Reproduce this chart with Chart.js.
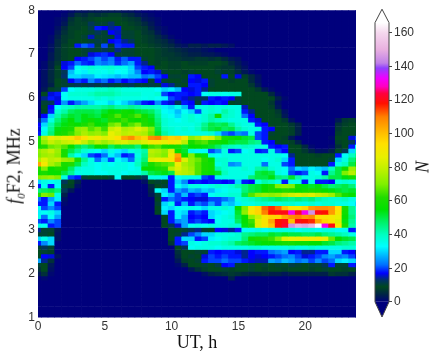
<!DOCTYPE html>
<html>
<head>
<meta charset="utf-8">
<title>foF2 occurrence</title>
<script src="https://cdn.jsdelivr.net/npm/chart.js@4/dist/chart.umd.min.js"></script>
<style>
    body { margin: 0; background: #fff; }
    canvas { position: absolute; top: 0; }
    #heatChart { left: 0; }
    #barChart { left: 366px; }
    .axisTitle {
        position: absolute;
        font-family: "Liberation Serif", serif;
        font-size: 18px;
        color: #111;
        white-space: nowrap;
        transform: translate(-50%, -50%) rotate(-90deg);
    }
    .axisTitle sub { font-size: 11px; font-style: italic; }
</style>
</head>
<body>
<canvas id="heatChart" width="370" height="356"></canvas>
<canvas id="barChart" width="67" height="356"></canvas>
<div class="axisTitle" style="left:15px;top:166px"><i>f</i><sub>0</sub>F2, MHz</div>
<div class="axisTitle" style="left:423px;top:167px"><i>N</i></div>
<script>
// UT columns (half hour bins) and tick labels
const utHours = [0,0.5,1,1.5,2,2.5,3,3.5,4,4.5,5,5.5,6,6.5,7,7.5,8,8.5,9,9.5,10,10.5,11,11.5,12,12.5,13,13.5,14,14.5,15,15.5,16,16.5,17,17.5,18,18.5,19,19.5,20,20.5,21,21.5,22,22.5,23,23.5,24];
const utTicks = [0,5,10,15,20];
const barTicks = [0,20,40,60,80,100,120,140,160];

// Counts per frequency bin, named by f0F2*10
const r80 = [0,0,0,0,0,1,2,2,3,3,3,3,3,2,2,1];
const r79 = [0,0,0,0,1,3,6,5,7,6,7,8,8,6,5,3,2,1];
const r78 = [0,0,0,1,2,6,8,7,8,9,9,9,9,8,7,6,3,2,1];
const r77 = [0,0,0,1,3,7,8,8,12,10,10,13,9,9,8,7,5,3,1];
const r76 = [0,0,0,2,5,8,8,9,11,18,17,14,16,9,9,8,7,4,2,1];
const r75 = [0,0,0,3,6,8,9,9,10,12,10,17,15,10,10,9,7,6,3,1];
const r74 = [0,0,1,4,7,8,9,10,15,10,10,10,16,10,10,9,8,7,5,3,1];
const r73 = [0,0,1,5,7,9,9,9,10,11,10,17,18,14,12,9,8,7,6,5,3,1];
const r72 = [0,0,2,5,8,9,18,21,19,10,20,10,19,18,18,9,9,8,7,6,5,3,2,4,4,3,4,4,3,2];
const r71 = [0,0,2,6,8,9,9,10,11,10,12,10,14,10,10,9,9,9,8,7,6,5,4,3,3,2,1];
const r70 = [0,0,3,6,8,9,9,10,16,18,19,17,10,10,10,9,9,9,8,7,7,6,5,4,4,3,3,2,1];
const r69 = [0,0,3,6,8,9,17,18,20,24,20,23,18,21,18,18,10,9,8,8,7,7,6,6,7,7,6,7,5,3,2];
const r68 = [0,1,4,7,16,18,22,19,18,24,22,24,19,22,26,18,14,9,8,9,8,8,9,8,8,8,9,9,8,5,3,1];
const r67 = [0,1,4,9,17,20,34,36,38,36,37,38,36,35,30,20,18,17,9,9,8,8,9,9,9,9,9,8,7,7,4,2];
const r66 = [0,2,5,8,12,28,34,32,36,35,34,36,33,34,30,24,17,18,16,10,9,9,8,10,9,9,9,10,8,8,6,3,1];
const r65 = [0,2,5,8,13,30,30,28,28,32,31,30,28,30,28,28,22,24,20,17,10,10,9,18,17,9,9,9,18,9,16,8,5,2];
const r64 = [0,2,5,9,10,17,20,18,24,20,22,18,20,17,19,18,17,10,17,10,9,9,10,17,16,18,10,9,9,8,9,9,5,2];
const r63 = [0,2,4,9,10,11,12,11,12,11,12,11,10,11,12,10,10,11,10,16,14,10,9,18,18,17,10,9,9,9,9,9,7,3];
const r62 = [0,3,8,10,20,33,36,36,36,38,38,40,38,36,36,36,36,36,33,30,32,28,17,16,18,14,9,9,9,9,9,9,9,7,3,1];
const r61 = [0,9,16,18,34,38,38,38,40,42,42,42,40,38,38,38,36,36,38,20,17,18,18,17,18,34,36,36,35,36,36,9,9,9,9,5,1];
const r60 = [0,14,18,16,34,36,36,36,36,38,36,38,36,36,36,36,35,36,34,32,20,18,16,14,12,12,18,17,18,17,10,9,9,9,9,9,4,1];
const r59 = [0,10,12,17,25,18,22,26,30,34,34,30,33,30,26,22,18,17,24,18,16,12,18,17,10,18,17,18,17,9,10,9,9,9,9,7,2];
const r58 = [0,9,17,33,38,40,42,42,42,42,44,46,42,42,44,42,40,40,38,32,30,35,28,18,36,36,38,36,37,36,36,15,9,9,9,8,3];
const r57 = [0,8,18,38,42,48,50,50,50,48,52,56,54,58,56,52,50,48,42,34,32,28,34,30,20,36,38,36,42,38,36,18,14,9,9,9,7,2];
const r56 = [0,17,30,42,48,52,50,54,52,50,56,60,66,58,62,66,58,52,44,36,34,30,36,38,35,38,42,58,40,38,36,22,17,9,9,9,8,3];
const r55 = [14,22,36,46,52,56,50,54,58,54,52,62,60,64,58,56,60,54,46,38,36,34,36,38,36,38,42,40,38,36,36,36,18,16,9,9,9,7,2,0,0,0,0,0,0,3,7,8,6];
const r54 = [17,30,42,50,54,58,56,60,64,56,58,68,72,62,66,70,62,58,48,38,36,36,36,36,38,44,50,48,50,44,38,36,36,18,17,9,9,9,7,4,0,0,0,0,0,6,8,9,9];
const r53 = [16,34,44,54,58,60,72,74,66,70,64,80,84,76,78,84,80,70,50,40,38,36,38,36,40,46,50,52,48,50,42,38,36,36,18,17,9,9,8,4,0,0,0,0,0,7,9,9,9];
const r52 = [18,36,46,58,60,64,70,76,72,74,70,86,82,78,80,78,76,68,52,42,38,36,36,36,36,36,38,30,22,20,24,22,36,20,18,10,9,9,8,4,0,0,0,0,0,8,9,9,10];
const r51 = [62,78,88,84,88,92,98,94,86,90,84,88,94,104,108,100,96,108,110,100,96,98,90,72,76,84,82,70,60,58,56,52,50,20,18,9,9,8,3,0,0,0,0,0,1,9,9,16,20];
const r50 = [60,72,80,76,80,82,86,80,72,78,74,78,82,84,80,80,84,90,90,86,92,88,78,60,64,66,60,58,56,52,50,50,46,44,18,17,10,9,8,4,0,0,0,0,0,8,9,12,18];
const r49 = [58,62,68,70,66,56,50,46,50,56,58,48,52,50,50,46,56,64,66,60,58,60,52,55,56,54,52,48,42,40,38,40,38,36,36,18,17,18,9,9,5,1,0,0,1,6,9,18,34];
const r48 = [72,76,80,74,60,50,44,38,36,34,30,36,32,30,36,38,42,78,76,72,84,56,52,36,34,34,20,24,36,18,20,34,36,18,19,36,20,17,9,9,7,4,2,2,4,9,12,30,40];
const r47 = [70,74,76,72,60,42,34,30,20,18,22,32,28,18,20,36,44,76,74,70,88,104,56,70,58,54,36,34,36,36,36,36,36,36,36,36,36,34,14,9,9,9,8,9,9,18,34,40,44];
const r46 = [76,84,78,80,74,72,60,44,36,22,30,20,34,30,22,38,46,84,86,88,92,108,84,72,68,62,56,38,38,36,36,36,36,36,34,36,38,30,18,9,9,9,9,9,10,30,36,46,50];
const r45 = [104,90,76,70,60,62,50,40,36,34,36,34,36,36,34,40,50,60,64,66,68,88,76,72,66,60,58,36,38,24,26,36,36,36,22,36,36,20,18,9,9,9,9,9,18,36,40,50,62];
const r44 = [60,70,56,60,58,48,38,36,36,34,36,36,36,36,34,36,56,56,60,62,78,84,78,74,66,60,58,42,38,36,36,38,36,42,44,38,36,34,22,30,28,32,30,28,40,50,58,74,70];
const r43 = [58,60,56,56,50,44,36,36,36,34,34,36,36,34,36,36,42,50,52,54,50,80,78,76,66,58,56,52,40,36,36,36,36,50,52,50,36,34,20,18,20,36,34,18,44,50,70,78,72];
const r42 = [70,72,74,70,36,20,18,10,9,9,9,10,34,9,9,10,12,36,36,32,18,34,36,36,36,20,18,36,36,36,36,36,46,50,50,54,46,44,52,42,36,36,38,42,50,50,54,60,52];
const r41 = [30,36,34,36,12,9,4,0,0,0,0,0,0,0,0,0,2,9,10,9,18,30,24,17,18,17,18,18,17,18,30,18,17,36,42,40,36,18,36,36,18,36,18,18,17,36,38,36,34];
const r40 = [18,34,18,34,10,8,2,0,0,0,0,0,0,0,0,0,0,5,9,10,18,34,30,36,36,34,36,38,36,38,42,46,50,52,56,60,70,72,70,58,54,52,54,50,46,48,50,46,40];
const r39 = [46,48,50,46,12,3,0,0,0,0,0,0,0,0,0,0,0,4,34,30,18,26,22,28,26,30,28,32,34,36,36,46,50,52,56,60,58,62,60,56,58,60,58,56,54,52,50,52,50];
const r38 = [62,70,68,36,4,0,0,0,0,0,0,0,0,0,0,0,0,3,10,32,28,20,28,18,20,18,34,36,36,38,38,50,66,72,74,72,74,78,82,84,82,84,80,78,74,66,60,56,52];
const r37 = [22,18,26,32,2,0,0,0,0,0,0,0,0,0,0,0,0,0,9,18,22,20,18,17,16,16,20,20,22,26,36,38,40,42,44,46,48,46,44,46,44,46,42,40,38,38,40,36,34];
const r36 = [18,18,30,18,1,0,0,0,0,0,0,0,0,0,0,0,0,0,10,30,36,18,28,18,22,20,26,20,30,28,32,36,36,38,38,36,36,38,38,36,36,38,36,38,38,36,36,34,30];
const r35 = [34,20,24,20,0,0,0,0,0,0,0,0,0,0,0,0,0,0,9,32,30,34,34,36,34,30,36,36,38,36,56,70,88,96,112,116,112,100,92,90,96,106,108,108,106,94,60,44,38];
const r34 = [32,34,36,30,0,0,0,0,0,0,0,0,0,0,0,0,0,0,9,30,18,32,30,18,20,18,30,32,34,36,52,72,92,96,110,118,120,120,132,122,132,145,120,118,106,92,58,44,40];
const r33 = [36,22,34,26,0,0,0,0,0,0,0,0,0,0,0,0,0,0,0,9,18,32,26,17,18,17,30,34,36,38,50,56,72,80,92,96,96,104,108,110,106,108,94,92,90,86,56,46,40];
const r32 = [20,18,24,20,0,0,0,0,0,0,0,0,0,0,0,0,0,0,0,9,18,24,26,18,20,18,17,34,36,36,48,56,64,84,92,104,118,120,100,120,118,116,104,96,92,84,54,44,38];
const r31 = [36,34,18,20,0,0,0,0,0,0,0,0,0,0,0,0,0,0,0,9,12,16,26,34,36,34,36,36,36,38,38,54,62,84,92,100,118,122,145,150,148,152,165,132,120,92,60,42,38];
const r30 = [14,10,10,3,0,0,0,0,0,0,0,0,0,0,0,0,0,0,0,0,9,9,10,12,14,10,9,17,16,14,18,34,34,36,34,36,36,36,36,34,36,36,34,36,36,34,34,18,20];
const r29 = [10,10,9,2,0,0,0,0,0,0,0,0,0,0,0,0,0,0,0,0,9,10,14,20,24,30,30,36,36,36,38,44,46,48,48,52,50,52,50,50,48,48,50,46,44,42,40,36,34];
const r28 = [30,36,30,2,0,0,0,0,0,0,0,0,0,0,0,0,0,0,0,0,9,18,30,30,18,20,32,34,36,38,38,46,58,60,62,64,70,84,86,88,90,88,90,86,68,56,52,50,46];
const r27 = [18,24,30,0,0,0,0,0,0,0,0,0,0,0,0,0,0,0,0,0,7,18,20,36,34,36,38,38,40,42,48,50,52,54,56,56,58,60,60,58,58,56,56,52,50,46,44,42,40];
const r26 = [10,12,10,0,0,0,0,0,0,0,0,0,0,0,0,0,0,0,0,0,0,9,12,34,36,36,36,34,36,36,36,36,38,38,36,36,36,36,38,36,36,38,36,36,36,36,38,38,34];
const r25 = [9,10,8,0,0,0,0,0,0,0,0,0,0,0,0,0,0,0,0,0,0,6,9,9,10,10,18,17,18,18,16,14,17,18,18,22,24,26,17,18,14,14,18,18,30,30,18,17,14];
const r24 = [9,17,16,2,0,0,0,0,0,0,0,0,0,0,0,0,0,0,0,0,0,5,9,10,9,16,20,18,20,18,18,14,17,16,17,18,20,22,24,20,16,18,20,24,26,22,24,20,16];
const r23 = [26,14,6,0,0,0,0,0,0,0,0,0,0,0,0,0,0,0,0,0,0,3,8,9,10,18,20,20,22,20,20,18,16,15,15,26,24,28,26,22,24,20,24,20,22,30,32,30,28];
const r22 = [10,9,3,0,0,0,0,0,0,0,0,0,0,0,0,0,0,0,0,0,0,1,4,9,9,10,9,11,17,18,10,9,10,9,10,9,10,9,11,10,9,10,10,12,18,10,10,18,16];
const r21 = [6,9,2,0,0,0,0,0,0,0,0,0,0,0,0,0,0,0,0,0,0,0,0,3,6,8,9,9,10,8,9,9,10,9,8,9,9,8,9,9,9,8,9,10,9,9,8,9,7];
const r20 = [3,6,1,0,0,0,0,0,0,0,0,0,0,0,0,0,0,0,0,0,0,0,0,0,0,2,4,5,6,7,6,5,4,4,5,4,4,3,4,4,4,4,4,4,7,6,6,4,3];
const r19 = [0,1,0,0,0,0,0,0,0,0,0,0,0,0,0,0,0,0,0,0,0,0,0,0,0,0,0,0,0,4];
const empty = [];

const rows = [
    [8.0,r80],[7.9,r79],[7.8,r78],[7.7,r77],[7.6,r76],[7.5,r75],[7.4,r74],[7.3,r73],[7.2,r72],[7.1,r71],
    [7.0,r70],[6.9,r69],[6.8,r68],[6.7,r67],[6.6,r66],[6.5,r65],[6.4,r64],[6.3,r63],[6.2,r62],[6.1,r61],
    [6.0,r60],[5.9,r59],[5.8,r58],[5.7,r57],[5.6,r56],[5.5,r55],[5.4,r54],[5.3,r53],[5.2,r52],[5.1,r51],
    [5.0,r50],[4.9,r49],[4.8,r48],[4.7,r47],[4.6,r46],[4.5,r45],[4.4,r44],[4.3,r43],[4.2,r42],[4.1,r41],
    [4.0,r40],[3.9,r39],[3.8,r38],[3.7,r37],[3.6,r36],[3.5,r35],[3.4,r34],[3.3,r33],[3.2,r32],[3.1,r31],
    [3.0,r30],[2.9,r29],[2.8,r28],[2.7,r27],[2.6,r26],[2.5,r25],[2.4,r24],[2.3,r23],[2.2,r22],[2.1,r21],
    [2.0,r20],[1.9,r19],[1.8,empty],[1.7,empty],[1.6,empty],[1.5,empty],[1.4,empty],[1.3,empty],[1.2,empty],[1.1,empty],[1.0,empty]
];

// Colour map taken from the colour bar
const mapValues = [0,4,9,13,17,22,27,33,40,48,55,62,70,79,86,94,100,110,118,124,128,133,139,142,150,160,166];
const mapColors = ['#00007c','#00204a','#00481f','#00306a','#0000ff','#0070ff','#00b0ff','#00ffff','#00ffc0','#00f060','#00e000','#20dc00','#80f000','#c0f000','#e8f000','#ffe000','#ffc000','#ff8000','#ff1000','#ff0040','#ff00c0','#f000ff','#9040ff','#c080e8','#e8b0e0','#f5d8ee','#ffffff'];
const barTop = 166;

const hexToRgb = (hex) => [1, 3, 5].map(p => parseInt(hex.substr(p, 2), 16));

const colorOf = (value) => {
    let k = 1;
    while (k < mapValues.length - 1 && value > mapValues[k]) k++;
    const t = Math.min(1, (value - mapValues[k - 1]) / (mapValues[k] - mapValues[k - 1]));
    const a = hexToRgb(mapColors[k - 1]);
    const b = hexToRgb(mapColors[k]);
    return `rgb(${a.map((c, j) => Math.round(c + (b[j] - c) * t)).join(',')})`;
};

const tickFont = { family: "'Liberation Sans', sans-serif", size: 12 };
const tickColor = '#333';

// Main heat map, each frequency bin is a dataset of floating bars
new Chart(document.getElementById('heatChart'), {
    type: 'bar',
    data: {
        datasets: rows.map(([freq, counts]) => ({
            data: utHours.map(ut => ({ x: ut, y: [freq - 0.05, freq + 0.05] })),
            backgroundColor: utHours.map((ut, i) => colorOf(counts[i] || 0)),
        })),
    },
    options: {
        responsive: false,
        animation: false,
        grouped: false,
        barPercentage: 1,
        categoryPercentage: 1,
        layout: { padding: { top: 9, right: 14 } },
        plugins: { legend: { display: false }, tooltip: { enabled: false } },
        scales: {
            x: {
                type: 'linear',
                offset: false,
                min: 0,
                max: 23.8,
                grid: { display: false, drawTicks: false },
                border: { display: false },
                afterBuildTicks: (scale) => { scale.ticks = utTicks.map(v => ({ value: v })); },
                afterFit: (scale) => { scale.height = 38.5; },
                ticks: { color: tickColor, font: tickFont, padding: 2, maxRotation: 0 },
                title: {
                    display: true,
                    text: 'UT, h',
                    color: '#111',
                    font: { family: "'Liberation Serif', serif", size: 18 },
                    padding: { top: 0, bottom: 2 },
                },
            },
            y: {
                min: 1,
                max: 8,
                grid: { display: false, drawTicks: false },
                border: { display: false },
                afterFit: (scale) => { scale.width = 38; },
                ticks: { color: tickColor, font: tickFont, padding: 3, stepSize: 1 },
            },
        },
    },
});

// Triangular ends of the colour bar, drawn from the value scale
const barEnds = {
    id: 'barEnds',
    afterDatasetsDraw(chart) {
        const { ctx, chartArea, scales } = chart;
        const mid = (chartArea.left + chartArea.right) / 2;
        const y0 = scales.y.getPixelForValue(0);
        const yTop = scales.y.getPixelForValue(barTop);
        ctx.save();
        ctx.fillStyle = mapColors[0];
        ctx.beginPath();
        ctx.moveTo(chartArea.left, y0);
        ctx.lineTo(mid, chartArea.bottom);
        ctx.lineTo(chartArea.right, y0);
        ctx.closePath();
        ctx.fill();
        ctx.strokeStyle = '#444';
        ctx.lineWidth = 1;
        ctx.beginPath();
        ctx.moveTo(chartArea.left, y0);
        ctx.lineTo(mid, chartArea.bottom);
        ctx.lineTo(chartArea.right, y0);
        ctx.lineTo(chartArea.right, yTop);
        ctx.lineTo(mid, chartArea.top);
        ctx.lineTo(chartArea.left, yTop);
        ctx.closePath();
        ctx.stroke();
        ctx.restore();
    },
};

const barFill = (ctx) => {
    const { chartArea, scales } = ctx.chart;
    if (!chartArea) return mapColors[0];
    const y0 = scales.y.getPixelForValue(0);
    const y1 = scales.y.getPixelForValue(barTop);
    const gradient = ctx.chart.ctx.createLinearGradient(0, y0, 0, y1);
    mapValues.forEach((v, i) => gradient.addColorStop(v / barTop, mapColors[i]));
    return gradient;
};

// Colour bar
new Chart(document.getElementById('barChart'), {
    type: 'bar',
    data: {
        labels: ['N'],
        datasets: [{ data: [[0, barTop]], backgroundColor: barFill }],
    },
    options: {
        responsive: false,
        animation: false,
        barPercentage: 1,
        categoryPercentage: 1,
        layout: { padding: { top: 9, left: 9, bottom: 39 } },
        plugins: { legend: { display: false }, tooltip: { enabled: false } },
        scales: {
            x: { display: false },
            y: {
                position: 'right',
                min: -9,
                max: 174,
                border: { display: false },
                grid: { drawOnChartArea: false, tickLength: 3, color: '#444' },
                afterBuildTicks: (scale) => { scale.ticks = barTicks.map(v => ({ value: v })); },
                afterFit: (scale) => { scale.width = 44; },
                ticks: { color: tickColor, font: tickFont, padding: 2 },
            },
        },
    },
    plugins: [barEnds],
});
</script>
</body>
</html>
